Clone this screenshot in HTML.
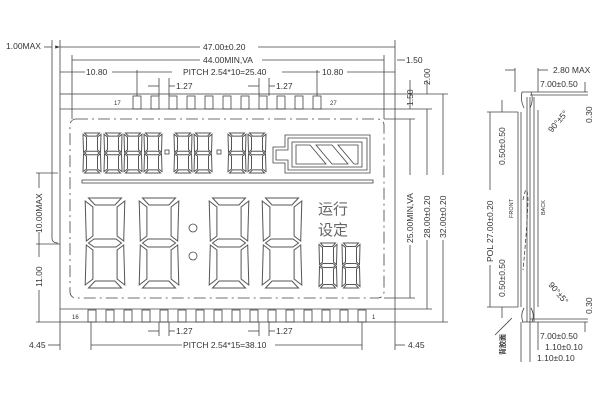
<!DOCTYPE html>
<html><head><meta charset="utf-8"><style>
html,body{margin:0;padding:0;background:#fff}
svg{display:block}
text{font-family:"Liberation Sans","Noto Sans CJK SC",sans-serif;fill:#333;font-size:8.5px}
</style></head><body>
<svg width="600" height="400" viewBox="0 0 600 400" xmlns="http://www.w3.org/2000/svg">
<defs>
<g id="dg" fill="none" stroke="#555">
<polygon vector-effect="non-scaling-stroke" points="5,0 35,0 29,7 11,7"/>
<polygon vector-effect="non-scaling-stroke" points="5,45 10,41 30,41 35,45 30,49 10,49"/>
<polygon vector-effect="non-scaling-stroke" points="5,90 35,90 29,83 11,83"/>
<polygon vector-effect="non-scaling-stroke" points="2,3 9,9 9,38 3,43"/>
<polygon vector-effect="non-scaling-stroke" points="38,3 31,9 31,38 37,43"/>
<polygon vector-effect="non-scaling-stroke" points="3,47 9,52 9,81 2,87"/>
<polygon vector-effect="non-scaling-stroke" points="37,47 31,52 31,81 38,87"/>
</g>
<marker id="ar" markerWidth="6" markerHeight="4" refX="6" refY="2" orient="auto"><path d="M0,0L6,2L0,4z" fill="#333"/></marker>
</defs>
<g stroke="#444" stroke-width="0.8" fill="none">
<!-- main outline -->
<rect x="60" y="94" width="335" height="228"/>
<line x1="60" y1="109" x2="395" y2="109"/>
<line x1="60" y1="309" x2="395" y2="309"/>
<rect x="70" y="119" width="314" height="179" rx="6" stroke-dasharray="12,4,2,4"/>
<!-- top pins -->
<g>
<rect x="133" y="96" width="8" height="13"/><rect x="151" y="96" width="8" height="13"/><rect x="169" y="96" width="8" height="13"/><rect x="187" y="96" width="8" height="13"/><rect x="205" y="96" width="8" height="13"/><rect x="223" y="96" width="8" height="13"/><rect x="241" y="96" width="8" height="13"/><rect x="259" y="96" width="8" height="13"/><rect x="277" y="96" width="8" height="13"/><rect x="295" y="96" width="8" height="13"/><rect x="313" y="96" width="8" height="13"/>
</g>
<g>
<rect x="88" y="310" width="8" height="12"/><rect x="106" y="310" width="8" height="12"/><rect x="124" y="310" width="8" height="12"/><rect x="142" y="310" width="8" height="12"/><rect x="160" y="310" width="8" height="12"/><rect x="178" y="310" width="8" height="12"/><rect x="196" y="310" width="8" height="12"/><rect x="214" y="310" width="8" height="12"/><rect x="232" y="310" width="8" height="12"/><rect x="250" y="310" width="8" height="12"/><rect x="268" y="310" width="8" height="12"/><rect x="286" y="310" width="8" height="12"/><rect x="304" y="310" width="8" height="12"/><rect x="322" y="310" width="8" height="12"/><rect x="340" y="310" width="8" height="12"/><rect x="358" y="310" width="8" height="12"/>
</g>
<!-- battery -->
<path d="M285,135 H370 V173 H285 V163 H273 V147 H285 Z"/>
<path d="M288,138 H367 V170 H288 V160 H276 V150 H288 Z"/>
<rect x="292" y="142" width="70" height="25"/>
<polygon points="296,145 310,145 326,164 296,164"/>
<polygon points="316,145 332,145 348,164 332,164"/>
<polygon points="338,145 358,145 358,164 354,164"/>
<rect x="82" y="180" width="291" height="3"/>
<!-- colons -->
<circle cx="193" cy="228" r="4"/><circle cx="193" cy="256" r="4"/>
<rect x="165" y="150" width="4" height="4"/><rect x="217" y="150" width="4" height="4"/>
<!-- dimension lines -->
<line x1="60" y1="40" x2="60" y2="94"/><line x1="395" y1="40" x2="395" y2="94"/>
<line x1="60" y1="47" x2="200" y2="47" marker-start="url(#ar)"/><line x1="258" y1="47" x2="395" y2="47"/>
<line x1="72" y1="55" x2="72" y2="119"/><line x1="384" y1="55" x2="384" y2="119"/>
<line x1="72" y1="60" x2="200" y2="60"/><line x1="262" y1="60" x2="384" y2="60"/>
<line x1="60" y1="72" x2="85" y2="72"/><line x1="112" y1="72" x2="172" y2="72"/><line x1="282" y1="72" x2="320" y2="72"/><line x1="347" y1="72" x2="395" y2="72"/>
<line x1="137" y1="70" x2="137" y2="96"/><line x1="317" y1="70" x2="317" y2="96"/>
<line x1="159" y1="78" x2="159" y2="96"/><line x1="169" y1="78" x2="169" y2="96"/>
<line x1="259" y1="78" x2="259" y2="96"/><line x1="269" y1="78" x2="269" y2="96"/>
<line x1="148" y1="86" x2="159" y2="86"/><line x1="169" y1="86" x2="175" y2="86"/>
<line x1="248" y1="86" x2="259" y2="86"/><line x1="269" y1="86" x2="275" y2="86"/>
<line x1="52" y1="40" x2="52" y2="238"/><path d="M52,238 Q52,243 58,243"/>
<line x1="44" y1="47" x2="52" y2="47"/>
<line x1="36" y1="173" x2="58" y2="173"/><line x1="36" y1="244" x2="60" y2="244"/><line x1="36" y1="322" x2="60" y2="322"/>
<line x1="39" y1="173" x2="39" y2="188"/><line x1="39" y1="232" x2="39" y2="244"/>
<line x1="39" y1="244" x2="39" y2="257"/><line x1="39" y1="290" x2="39" y2="322"/>
<line x1="60" y1="322" x2="60" y2="350"/><line x1="395" y1="322" x2="395" y2="350"/>
<line x1="91" y1="322" x2="91" y2="350"/><line x1="362" y1="322" x2="362" y2="350"/>
<line x1="91" y1="345" x2="182" y2="345"/><line x1="275" y1="345" x2="362" y2="345"/>
<line x1="48" y1="345" x2="60" y2="345"/><line x1="395" y1="345" x2="405" y2="345"/>
<line x1="159" y1="322" x2="159" y2="336"/><line x1="169" y1="322" x2="169" y2="336"/>
<line x1="259" y1="322" x2="259" y2="336"/><line x1="269" y1="322" x2="269" y2="336"/>
<line x1="148" y1="331" x2="159" y2="331"/><line x1="169" y1="331" x2="175" y2="331"/>
<line x1="248" y1="331" x2="259" y2="331"/><line x1="269" y1="331" x2="275" y2="331"/>
<line x1="395" y1="94" x2="448" y2="94"/><line x1="395" y1="109" x2="432" y2="109"/><line x1="384" y1="119" x2="415" y2="119"/>
<line x1="384" y1="298" x2="415" y2="298"/><line x1="395" y1="309" x2="432" y2="309"/><line x1="395" y1="322" x2="448" y2="322"/>
<line x1="410" y1="119" x2="410" y2="175"/><line x1="410" y1="245" x2="410" y2="298"/>
<line x1="427" y1="109" x2="427" y2="175"/><line x1="427" y1="240" x2="427" y2="309"/>
<line x1="443" y1="94" x2="443" y2="175"/><line x1="443" y1="240" x2="443" y2="322"/>
<line x1="410" y1="80" x2="410" y2="109"/><line x1="427" y1="80" x2="427" y2="94"/>
<line x1="397" y1="60" x2="405" y2="60"/>
<!-- side view -->
<line x1="518" y1="112" x2="518" y2="307"/><line x1="521" y1="112" x2="521" y2="307"/>
<line x1="527" y1="97" x2="527" y2="322"/><line x1="530" y1="97" x2="530" y2="322"/>
<line x1="534" y1="97" x2="534" y2="322"/><line x1="538" y1="110" x2="538" y2="307"/>
<path d="M522,92 Q520,100 524,108 M531,92 Q534,100 530,108"/>
<path d="M523,322 Q520,315 524,308 M532,322 Q535,315 531,308"/>
<path d="M522,92 H588 M530,95 H588 M522,322 H588 M530,319 H588"/>
<path d="M523,200 Q527,180 528,200 Q527,230 523,270" stroke-dasharray="4,2"/>
<line x1="487" y1="112" x2="518" y2="112"/><line x1="487" y1="307" x2="518" y2="307"/>
<line x1="490" y1="112" x2="490" y2="190"/><line x1="490" y1="265" x2="490" y2="307"/>
<line x1="502" y1="100" x2="502" y2="112"/><line x1="502" y1="307" x2="502" y2="318"/>
<line x1="515" y1="68" x2="515" y2="92"/><line x1="538" y1="68" x2="538" y2="92"/>
<line x1="505" y1="70" x2="515" y2="70"/><line x1="538" y1="70" x2="548" y2="70"/>
<line x1="585" y1="82" x2="585" y2="92"/><line x1="585" y1="322" x2="585" y2="332"/>
<line x1="530" y1="322" x2="530" y2="362"/><line x1="521" y1="322" x2="521" y2="362"/><line x1="538" y1="322" x2="538" y2="350"/>
<line x1="512" y1="318" x2="495" y2="335"/>
</g>
<!-- digits -->
<use href="#dg" transform="translate(83,198) scale(1.1,1)"/>
<use href="#dg" transform="translate(137,198) scale(1.1,1)"/>
<use href="#dg" transform="translate(207,198) scale(1.1,1)"/>
<use href="#dg" transform="translate(260,198) scale(1.1,1)"/>
<use href="#dg" transform="translate(318,243) scale(0.5,0.5)"/>
<use href="#dg" transform="translate(341,243) scale(0.5,0.5)"/>
<use href="#dg" transform="translate(82,133) scale(0.5,0.444)"/>
<use href="#dg" transform="translate(103,133) scale(0.5,0.444)"/>
<use href="#dg" transform="translate(123,133) scale(0.5,0.444)"/>
<use href="#dg" transform="translate(143,133) scale(0.5,0.444)"/>
<use href="#dg" transform="translate(173,133) scale(0.5,0.444)"/>
<use href="#dg" transform="translate(193,133) scale(0.5,0.444)"/>
<use href="#dg" transform="translate(227,133) scale(0.5,0.444)"/>
<use href="#dg" transform="translate(247,133) scale(0.5,0.444)"/>
<text x="318" y="214" style="font-size:15px;fill:#666">运行</text>
<text x="318" y="235" style="font-size:15px;fill:#666">设定</text>
<!-- labels -->
<text x="203" y="50">47.00±0.20</text>
<text x="203" y="63">44.00MIN,VA</text>
<text x="86" y="75">10.80</text>
<text x="322" y="75">10.80</text>
<text x="183" y="75">PITCH 2.54*10=25.40</text>
<text x="176" y="89">1.27</text>
<text x="276" y="89">1.27</text>
<text x="176" y="334">1.27</text>
<text x="276" y="334">1.27</text>
<text x="183" y="348">PITCH 2.54*15=38.10</text>
<text x="29" y="348">4.45</text>
<text x="408" y="348">4.45</text>
<text x="6" y="49">1.00MAX</text>
<text x="406" y="63">1.50</text>
<text x="114" y="105" style="font-size:6px">17</text>
<text x="330" y="105" style="font-size:6px">27</text>
<text x="72" y="319" style="font-size:6px">16</text>
<text x="372" y="319" style="font-size:6px">1</text>
<text x="553" y="73">2.80 MAX</text>
<text x="540" y="87">7.00±0.50</text>
<text x="540" y="339">7.00±0.50</text>
<text x="545" y="350">1.10±0.10</text>
<text x="537" y="361">1.10±0.10</text>
<g style="font-size:8.5px">
<text transform="translate(42,233) rotate(-90)">10.00MAX</text>
<text transform="translate(42,287) rotate(-90)">11.00</text>
<text transform="translate(413,243) rotate(-90)">25.00MIN,VA</text>
<text transform="translate(430,238) rotate(-90)">28.00±0.20</text>
<text transform="translate(446,238) rotate(-90)">32.00±0.20</text>
<text transform="translate(413,106) rotate(-90)">1.50</text>
<text transform="translate(430,85) rotate(-90)">2.00</text>
<text transform="translate(592,123) rotate(-90)">0.30</text>
<text transform="translate(592,314) rotate(-90)">0.30</text>
<text transform="translate(505,165) rotate(-90)">0.50±0.50</text>
<text transform="translate(505,297) rotate(-90)">0.50±0.50</text>
<text transform="translate(493,262) rotate(-90)">POL 27.00±0.20</text>
<text transform="translate(552,133) rotate(-50)">90°±5°</text>
<text transform="translate(548,285) rotate(50)">90°±5°</text>
<text transform="translate(513,218) rotate(-90)" style="font-size:5.5px">FRONT</text>
<text transform="translate(545,215) rotate(-90)" style="font-size:5.5px">BACK</text>
<text transform="translate(505,355) rotate(-90)" style="font-size:7px;font-weight:bold">背胶面</text>
</g>
</svg>
</body></html>
